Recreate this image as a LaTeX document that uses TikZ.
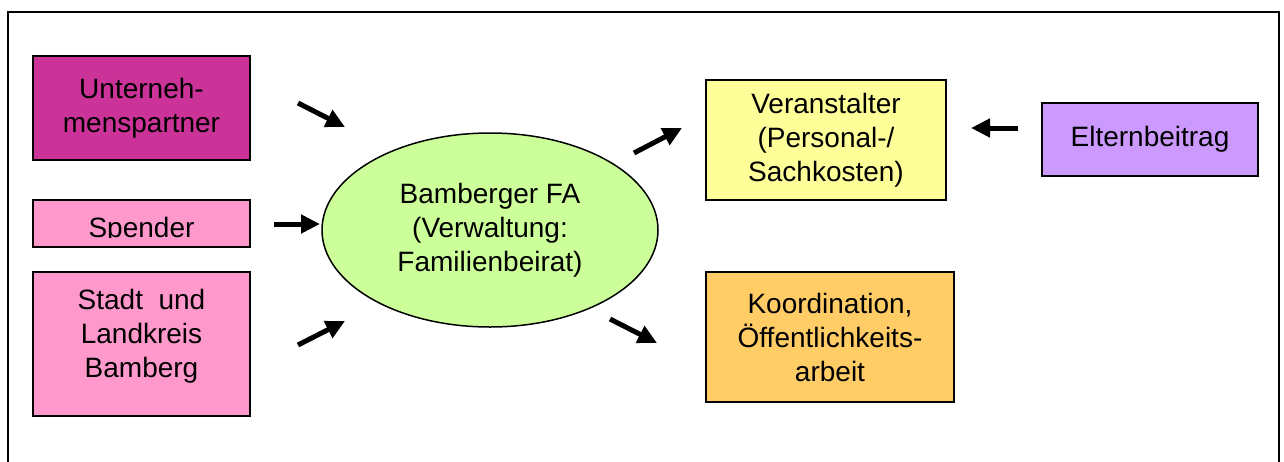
\documentclass[tikz,border=0pt]{standalone}
\usepackage{fontspec}
\setmainfont{Liberation Sans}
\usetikzlibrary{arrows.meta,shapes.geometric}
\definecolor{partner}{HTML}{CC3399}
\definecolor{rosa}{HTML}{FF99CC}
\definecolor{hellgruen}{HTML}{CCFF99}
\definecolor{gelb}{HTML}{FFFF99}
\definecolor{orange}{HTML}{FFCC66}
\definecolor{lila}{HTML}{CC99FF}
\tikzstyle{kasten}=[draw, line width=2pt, inner sep=0pt, align=center,
font=\fontsize{28}{34}\selectfont]
\tikzstyle{quelle}=[kasten, minimum width=217pt, fill=rosa]
\tikzstyle{zentrale}=[kasten, ellipse, line width=1.5pt, fill=hellgruen,
minimum width=336pt, minimum height=194pt]
\tikzstyle{pfeil}=[line width=5pt, -{Triangle[length=19pt,width=18pt]}]

\begin{document}
\begin{tikzpicture}[x=1pt,y=-1pt]
\useasboundingbox (0,0) rectangle (1284,461);
\clip (0,0) rectangle (1284,461);
\draw[line width=2pt] (8,12) rectangle (1279,520);

% Geldgeber links
\node (unt) at (141.5,108) [quelle, fill=partner, minimum height=104pt] {Unterneh-\\menspartner};
\node (spd) at (141.5,223.5) [quelle, minimum height=47pt] {};
\begin{scope}
\clip (30,195) rectangle (255,237.5);
\node (spdtxt) at (141.5,237) [anchor=base, font=\fontsize{28}{34}\selectfont] {Spender};
\end{scope}
\node (stadt) at (141.5,344) [quelle, minimum height=144pt] {};
\node (stadttxt) at (141.5,289) [anchor=north, inner sep=0pt, align=center, font=\fontsize{28}{34}\selectfont] {Stadt\ \ und\\Landkreis\\Bamberg};

% Mitte
\node (fa) at (490,230) [zentrale] {Bamberger FA\\(Verwaltung:\\Familienbeirat)};

% rechts
\node (veran) at (826,140) [kasten, fill=gelb, minimum width=240pt, minimum height=120pt] {Veranstalter\\(Personal-/\\Sachkosten)};
\node (eltern) at (1150,139.5) [kasten, fill=lila, minimum width=216pt, minimum height=73pt] {Elternbeitrag};
\node (koord) at (830,337) [kasten, fill=orange, minimum width=248pt, minimum height=130pt] {Koordination,\\Öffentlichkeits-\\arbeit};

% Pfeile
\coordinate (p1a) at (298,103); \coordinate (p1b) at (345,127);
\coordinate (p2a) at (274,224); \coordinate (p2b) at (320,224);
\coordinate (p3a) at (298,345); \coordinate (p3b) at (345,321);
\coordinate (p4a) at (634,153); \coordinate (p4b) at (682,128);
\coordinate (p5a) at (610,319); \coordinate (p5b) at (657,343);
\coordinate (p6a) at (1018,128); \coordinate (p6b) at (971,128);
\draw[pfeil] (p1a) -- (p1b);
\draw[pfeil] (p2a) -- (p2b);
\draw[pfeil] (p3a) -- (p3b);
\draw[pfeil] (p4a) -- (p4b);
\draw[pfeil] (p5a) -- (p5b);
\draw[pfeil] (p6a) -- (p6b);

\end{tikzpicture}
\end{document}
